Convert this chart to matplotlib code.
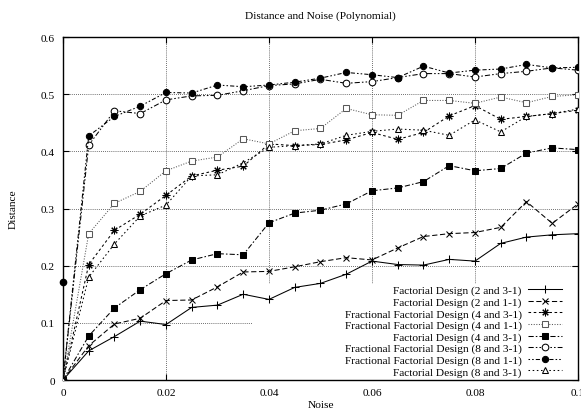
import matplotlib
matplotlib.use("Agg")
import matplotlib.pyplot as plt
from matplotlib.patches import Rectangle
import numpy as np

plt.rcParams['font.family'] = ['Liberation Serif', 'DejaVu Serif']

noise = [0.0, 0.005, 0.01, 0.015, 0.02, 0.025, 0.03, 0.035, 0.04, 0.045, 0.05,
         0.055, 0.06, 0.065, 0.07, 0.075, 0.08, 0.085, 0.09, 0.095, 0.1]

fd_2_31 = [0.0, 0.051, 0.076, 0.103, 0.097, 0.127, 0.131, 0.150, 0.141, 0.162, 0.169,
           0.185, 0.208, 0.202, 0.201, 0.211, 0.208, 0.239, 0.250, 0.254, 0.256]
fd_2_11 = [0.0, 0.060, 0.098, 0.108, 0.139, 0.140, 0.163, 0.189, 0.190, 0.198, 0.207,
           0.214, 0.210, 0.231, 0.251, 0.256, 0.258, 0.267, 0.312, 0.274, 0.308]
ffd_4_31 = [0.0, 0.202, 0.262, 0.290, 0.323, 0.357, 0.367, 0.374, 0.413, 0.410, 0.412,
            0.420, 0.433, 0.421, 0.433, 0.462, 0.480, 0.456, 0.461, 0.466, 0.472]
ffd_4_11 = [0.0, 0.256, 0.309, 0.330, 0.366, 0.383, 0.390, 0.422, 0.413, 0.436, 0.440,
            0.475, 0.464, 0.463, 0.489, 0.489, 0.484, 0.495, 0.485, 0.496, 0.499]
fd_4_31 = [0.0, 0.077, 0.126, 0.158, 0.186, 0.210, 0.221, 0.219, 0.275, 0.292, 0.297,
           0.308, 0.331, 0.336, 0.347, 0.375, 0.366, 0.370, 0.397, 0.406, 0.403]
ffd_8_31 = [0.0, 0.411, 0.471, 0.466, 0.490, 0.497, 0.498, 0.506, 0.515, 0.518, 0.526,
            0.519, 0.522, 0.529, 0.536, 0.536, 0.530, 0.536, 0.540, 0.546, 0.542]
ffd_8_11 = [0.0, 0.427, 0.461, 0.479, 0.503, 0.502, 0.516, 0.513, 0.516, 0.521, 0.528,
            0.538, 0.534, 0.529, 0.549, 0.537, 0.542, 0.544, 0.552, 0.546, 0.547]
fd_8_31 = [0.0, 0.180, 0.238, 0.287, 0.306, 0.357, 0.359, 0.380, 0.407, 0.410, 0.413,
           0.428, 0.435, 0.439, 0.437, 0.428, 0.455, 0.434, 0.461, 0.466, 0.474]

stray_x = [0.0]
stray_y = [0.172]

labels = ["Factorial Design (2 and 3-1)",
          "Factorial Design (2 and 1-1)",
          "Fractional Factorial Design (4 and 3-1)",
          "Fractional Factorial Design (4 and 1-1)",
          "Factorial Design (4 and 3-1)",
          "Fractional Factorial Design (8 and 3-1)",
          "Fractional Factorial Design (8 and 1-1)",
          "Factorial Design (8 and 3-1)"]
series = [fd_2_31, fd_2_11, ffd_4_31, ffd_4_11, fd_4_31, ffd_8_31, ffd_8_11, fd_8_31]

xticks = [0, 0.02, 0.04, 0.06, 0.08, 0.1]
xticklabels = ["0", "0.02", "0.04", "0.06", "0.08", "0.1"]
yticks = [0, 0.1, 0.2, 0.3, 0.4, 0.5, 0.6]
yticklabels = ["0", "0.1", "0.2", "0.3", "0.4", "0.5", "0.6"]

styles = [
    dict(ls='-', marker='+', ms=5.5, mfc='none'),
    dict(ls=(0, (5, 2.5)), marker='x', ms=4.5, mfc='none'),
    dict(ls=(0, (2.5, 2.5)), marker=(8, 2, 0), ms=5.5, mfc='none'),
    dict(ls=(0, (1, 1.5)), marker='s', ms=4.5, mfc='white', color='0.35'),
    dict(ls=(0, (5, 2, 1.5, 2)), marker='s', ms=5, mfc='black'),
    dict(ls=(0, (5, 2, 1.5, 2, 1.5, 2)), marker='o', ms=4.8, mfc='white'),
    dict(ls=(0, (1.5, 2, 1.5, 2, 4, 2)), marker='o', ms=4.5, mfc='black'),
    dict(ls=(0, (1.5, 2.5)), marker='^', ms=4.5, mfc='white'),
]

fig = plt.figure(figsize=(5.81, 4.14), dpi=100)
ax = fig.add_axes([0.1084, 0.0797, 0.8864, 0.8285])

fs = 8.2
for y, lab, st in zip(series, labels, styles):
    color = st.pop('color', 'black')
    ax.plot(noise, y, label=lab, color=color, lw=0.75, mec=color, mew=0.75,
            zorder=3, **st)
ax.plot(stray_x, stray_y, ls='none', marker='o', ms=4.5, color='black', zorder=3,
        clip_on=False)

ax.set_xlim(0, 0.1)
ax.set_ylim(0, 0.6)
ax.set_xticks(xticks)
ax.set_xticklabels(xticklabels)
ax.set_yticks(yticks)
ax.set_yticklabels(yticklabels)
ax.tick_params(direction='in', length=4, width=0.8, top=True, right=True,
               labelsize=fs, pad=6)
ax.grid(True, ls=(0, (1, 1.5)), lw=0.6, color='0.25')
ax.set_axisbelow(True)
for s in ax.spines.values():
    s.set_linewidth(1.0)

# key area hides grid
ax.add_patch(Rectangle((0.0369, 0.0), 0.1 - 0.0369, 0.168, facecolor='white',
                       edgecolor='none', zorder=1))

ax.set_title("Distance and Noise (Polynomial)", fontsize=fs, pad=14)
ax.set_xlabel("Noise", fontsize=fs, labelpad=2)
ax.set_ylabel("Distance", fontsize=fs, labelpad=16)

leg = ax.legend(loc='lower right', bbox_to_anchor=(0.975, 0.0), frameon=False,
                markerfirst=False, fontsize=fs, handlelength=3.0,
                handletextpad=0.5, labelspacing=0.12, borderpad=0.3,
                borderaxespad=0.0, numpoints=1)

fig.savefig("out.png", dpi=100)
